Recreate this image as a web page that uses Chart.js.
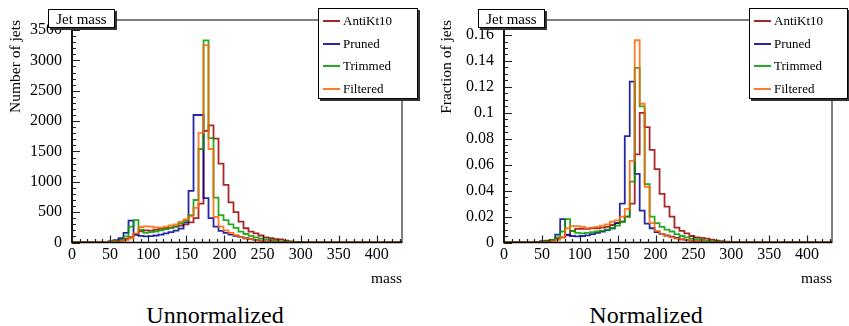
<!DOCTYPE html>
<html>
<head>
<meta charset="utf-8">
<script src="https://cdn.jsdelivr.net/npm/chart.js@4.4.0/dist/chart.umd.min.js"></script>
<style>
  body { margin: 0; background: #fff; width: 849px; height: 326px; position: relative; overflow: hidden;
         font-family: "Liberation Serif", "Times New Roman", serif; color: #000; }
  canvas { position: absolute; top: 0; }
  .pave { position: absolute; background: #fff; border: 1px solid #000; box-sizing: border-box;
          box-shadow: 2px 2px 0 #333; }
  .ttl { font-size: 15px; line-height: 16px; text-align: center; padding-top: 1px; }
  .row { position: absolute; left: 4px; height: 16px; font-size: 13px; line-height: 16px; white-space: nowrap; }
  .sw { display: inline-block; width: 17px; height: 2px; vertical-align: middle; margin-right: 3px; margin-top: -2px; }
  .cap { position: absolute; top: 303px; width: 430px; text-align: center; font-size: 24px; line-height: 24px; }
</style>
</head>
<body>
<canvas id="cUnnorm" width="424" height="300" style="left:0"></canvas>
<canvas id="cNorm" width="425" height="300" style="left:424px"></canvas>

<div class="pave ttl" style="left:48px;top:9px;width:67px;height:19px">Jet mass</div>
<div class="pave" id="legUnnorm" style="left:318px;top:8px;width:100px;height:91px"></div>
<div class="pave ttl" style="left:478px;top:9px;width:67px;height:19px">Jet mass</div>
<div class="pave" id="legNorm" style="left:749px;top:8px;width:99px;height:91px"></div>

<div class="cap" style="left:0">Unnormalized</div>
<div class="cap" style="left:431px">Normalized</div>

<script>
// ---- data ----
const seriesNames = ["AntiKt10", "Pruned", "Trimmed", "Filtered"]
const seriesColors = ["rgba(155,0,0,0.85)", "rgba(0,0,155,0.85)", "rgba(0,155,0,0.85)", "rgba(255,100,0,0.85)"]

// histogram binning (mass)
const binLow = 2
const binWidth = 6.56
const xMax = 433

// axis ticks
const xTicks = [0, 50, 100, 150, 200, 250, 300, 350, 400]
const countTicks = [0, 500, 1000, 1500, 2000, 2500, 3000, 3500]
const fracTicks = [0, 0.02, 0.04, 0.06, 0.08, 0.1, 0.12, 0.14, 0.16]

// number of jets per bin (bins 0..49, rest empty)
const antiKtCounts = [0, 0, 0, 0, 0, 3, 8, 15, 25, 40,
  60, 90, 130, 185, 200, 195, 210, 225, 235, 245,
  260, 280, 300, 330, 400, 640, 1840, 1930, 1710, 1300,
  950, 660, 500, 345, 235, 180, 150, 115, 85, 70,
  55, 50, 30, 20, 10, 6, 4, 2, 1, 0]
const prunedCounts = [0, 0, 0, 0, 0, 5, 10, 20, 40, 70,
  160, 360, 130, 110, 100, 105, 115, 130, 150, 170,
  195, 230, 330, 850, 2100, 2100, 730, 400, 260, 190,
  160, 130, 110, 90, 70, 55, 40, 30, 20, 12,
  8, 5, 3, 0, 0, 0, 0, 0, 0, 0]
const trimmedCounts = [0, 0, 0, 0, 0, 3, 8, 15, 25, 40,
  100, 260, 370, 210, 160, 170, 180, 200, 220, 240,
  265, 320, 360, 450, 700, 1540, 3330, 1720, 740, 450,
  370, 300, 240, 180, 140, 110, 85, 65, 50, 40,
  30, 20, 15, 10, 6, 3, 0, 0, 0, 0]
const filteredCounts = [0, 0, 0, 0, 0, 2, 5, 10, 15, 25,
  40, 70, 150, 255, 265, 260, 250, 245, 260, 280,
  300, 340, 380, 430, 570, 1800, 3250, 1540, 420, 260,
  200, 160, 120, 90, 70, 55, 40, 30, 20, 15,
  10, 5, 3, 0, 0, 0, 0, 0, 0, 0]

// fraction of jets per bin
const antiKtFrac = [0, 0, 0, 0, 0, 0.0003, 0.0005, 0.001, 0.0015, 0.002,
  0.003, 0.004, 0.0055, 0.009, 0.0105, 0.0105, 0.0105, 0.011, 0.011, 0.0115,
  0.012, 0.0135, 0.015, 0.016, 0.02, 0.03, 0.068, 0.1, 0.089, 0.0715,
  0.0566, 0.0375, 0.0277, 0.02, 0.0115, 0.009, 0.007, 0.005, 0.004, 0.0035,
  0.003, 0.0022, 0.0015, 0.001, 0.0006, 0.0004, 0.0002, 0, 0, 0]
const prunedFrac = [0, 0, 0, 0, 0, 0, 0.0003, 0.0006, 0.0012, 0.002,
  0.006, 0.018, 0.006, 0.005, 0.0048, 0.005, 0.0055, 0.0065, 0.0075, 0.0085,
  0.0095, 0.011, 0.015, 0.03, 0.082, 0.124, 0.053, 0.0246, 0.0145, 0.011,
  0.008, 0.0065, 0.0055, 0.0045, 0.0035, 0.0025, 0.002, 0.0015, 0.001, 0.0007,
  0.0004, 0.0002, 0, 0, 0, 0, 0, 0, 0, 0]
const trimmedFrac = [0, 0, 0, 0, 0, 0, 0, 0.0006, 0.001, 0.002,
  0.004, 0.0085, 0.018, 0.009, 0.0075, 0.007, 0.0075, 0.008, 0.0085, 0.009,
  0.01, 0.011, 0.013, 0.016, 0.02, 0.047, 0.1346, 0.105, 0.045, 0.02,
  0.015, 0.012, 0.01, 0.0085, 0.0065, 0.005, 0.004, 0.003, 0.0025, 0.002,
  0.0015, 0.001, 0.0007, 0.0004, 0.0002, 0, 0, 0, 0, 0]
const filteredFrac = [0, 0, 0, 0, 0, 0, 0, 0, 0.0005, 0.001,
  0.002, 0.004, 0.011, 0.0127, 0.0127, 0.012, 0.011, 0.0115, 0.012, 0.013,
  0.014, 0.016, 0.017, 0.02, 0.026, 0.063, 0.156, 0.107, 0.043, 0.015,
  0.009, 0.0065, 0.005, 0.004, 0.003, 0.0025, 0.002, 0.0015, 0.001, 0.0007,
  0.0004, 0.0002, 0, 0, 0, 0, 0, 0, 0, 0]

// ---- helpers ----
function histPoints(vals) {
  let pts = [{ x: 0, y: 0 }, { x: binLow, y: 0 }]
  vals.forEach((v, k) => pts.push({ x: binLow + k * binWidth, y: v }))
  pts.push({ x: binLow + vals.length * binWidth, y: 0 })
  pts.push({ x: xMax + 5, y: 0 })
  return pts
}

// ROOT style frame + inward ticks
const rootFrame = {
  id: 'rootFrame',
  afterDraw(chart, args, opts) {
    const { ctx, chartArea: a, scales: { x, y } } = chart
    ctx.save()
    ctx.strokeStyle = '#000'
    ctx.lineWidth = 1
    ctx.strokeRect(a.left, a.top, a.right - a.left, a.bottom - a.top)
    ctx.lineWidth = 1.6
    ctx.beginPath()
    ctx.moveTo(a.left, a.top); ctx.lineTo(a.left, a.bottom); ctx.lineTo(a.right, a.bottom)
    ctx.stroke()
    ctx.lineWidth = 1.2
    ctx.strokeStyle = '#222'
    ctx.beginPath()
    for (let i = 0; i * opts.xMinor <= x.max; i++) {
      const px = Math.round(x.getPixelForValue(i * opts.xMinor)) + 0.5
      const len = i % opts.xSub === 0 ? 7 : 3.5
      ctx.moveTo(px, a.bottom); ctx.lineTo(px, a.bottom - len)
    }
    for (let i = 0; i * opts.yMinor <= y.max; i++) {
      const py = Math.round(y.getPixelForValue(i * opts.yMinor)) + 0.5
      const len = i % opts.ySub === 0 ? 8 : 4
      ctx.moveTo(a.left, py); ctx.lineTo(a.left + len, py)
    }
    ctx.stroke()
    ctx.restore()
  }
}

function makeChart(id, series, o) {
  const tickFont = { family: 'Liberation Serif', size: 16 }
  return new Chart(document.getElementById(id), {
    type: 'line',
    data: {
      datasets: seriesNames.map((name, i) => ({
        label: name,
        data: histPoints(series[i]),
        borderColor: seriesColors[i],
        borderWidth: 1.8,
        stepped: true,
        pointRadius: 0,
        fill: false,
        order: 4 - i
      }))
    },
    options: {
      responsive: false,
      animation: false,
      devicePixelRatio: 1,
      layout: { padding: { top: 20, right: o.padRight, left: 0, bottom: 0 } },
      plugins: {
        legend: { display: false },
        tooltip: { enabled: false },
        rootFrame: { xMinor: 10, xSub: 5, yMinor: o.yMinor, ySub: o.ySub }
      },
      scales: {
        x: {
          type: 'linear', min: 0, max: xMax,
          afterFit: s => { s.height = 57.5 },
          afterBuildTicks: s => { s.ticks = xTicks.map(v => ({ value: v })) },
          grid: { display: false },
          border: { display: false },
          ticks: { autoSkip: false, maxRotation: 0, padding: -5, color: '#000', font: tickFont },
          title: { display: true, text: 'mass', align: 'end', color: '#000',
                   font: { family: 'Liberation Serif', size: 15.5 }, padding: { top: 0, bottom: 12 } }
        },
        y: {
          min: 0, max: o.yMax,
          afterFit: s => { s.width = o.yWidth },
          afterBuildTicks: s => { s.ticks = o.ticks.map(v => ({ value: v })) },
          grid: { display: false },
          border: { display: false },
          ticks: { autoSkip: false, padding: 2, color: '#000', font: tickFont, callback: o.fmt },
          title: { display: true, text: o.yTitle, align: 'end', color: '#000',
                   font: { family: 'Liberation Serif', size: 15.5 }, padding: { top: o.titlePad } }
        }
      }
    },
    plugins: [rootFrame]
  })
}

makeChart('cUnnorm', [antiKtCounts, prunedCounts, trimmedCounts, filteredCounts], {
  yMax: 3665, ticks: countTicks, yMinor: 100, ySub: 5, yWidth: 72, padRight: 22, titlePad: 7,
  yTitle: 'Number of jets', fmt: v => String(v)
})
makeChart('cNorm', [antiKtFrac, prunedFrac, trimmedFrac, filteredFrac], {
  yMax: 0.1716, ticks: fracTicks, yMinor: 0.005, ySub: 4, yWidth: 80, padRight: 17, titlePad: 14,
  yTitle: 'Fraction of jets', fmt: v => String(+v.toFixed(2))
})

// legends built from the series arrays
function buildLegend(id) {
  const box = document.getElementById(id)
  seriesNames.forEach((name, i) => {
    const row = document.createElement('div')
    row.className = 'row'
    row.style.top = (4 + i * 22.7) + 'px'
    row.innerHTML = `<span class="sw" style="background:${seriesColors[i]}"></span>${name}`
    box.appendChild(row)
  })
}
buildLegend('legUnnorm')
buildLegend('legNorm')
</script>
</body>
</html>
